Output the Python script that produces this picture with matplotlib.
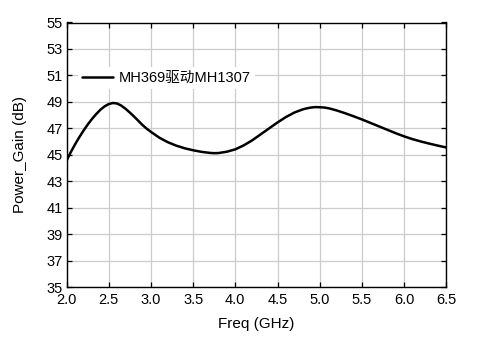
import numpy as np
import matplotlib
matplotlib.use('Agg')
import matplotlib.pyplot as plt

plt.rcParams['font.family'] = ['Liberation Sans', 'Noto Sans CJK SC', 'DejaVu Sans']

# values
freq = [2.0, 2.05, 2.1, 2.15, 2.2, 2.25, 2.3, 2.35, 2.4, 2.45,
        2.5, 2.55, 2.6, 2.65, 2.7, 2.75, 2.8, 2.85, 2.9, 2.95,
        3.0, 3.1, 3.2, 3.3, 3.4, 3.5, 3.6, 3.7, 3.75, 3.8, 3.9,
        4.0, 4.1, 4.2, 4.3, 4.4, 4.5, 4.6, 4.7, 4.8, 4.85, 4.9, 4.95,
        5.0, 5.05, 5.1, 5.15, 5.2, 5.3, 5.4, 5.5, 5.6, 5.7, 5.8, 5.9,
        6.0, 6.1, 6.2, 6.3, 6.4, 6.5]
gain = [44.55, 45.2, 45.78, 46.32, 46.82, 47.28, 47.7, 48.07, 48.4, 48.66,
        48.84, 48.92, 48.88, 48.72, 48.48, 48.2, 47.9, 47.58, 47.26, 46.98,
        46.74, 46.3, 45.96, 45.7, 45.5, 45.35, 45.23, 45.15, 45.13, 45.14, 45.24,
        45.42, 45.72, 46.1, 46.55, 47.0, 47.45, 47.86, 48.2, 48.44, 48.52, 48.58, 48.61,
        48.6, 48.58, 48.53, 48.45, 48.36, 48.15, 47.92, 47.68, 47.42, 47.16, 46.9, 46.64,
        46.4, 46.19, 46.01, 45.85, 45.7, 45.56]
series_name = 'MH369驱动MH1307'
xticks = [2.0, 2.5, 3.0, 3.5, 4.0, 4.5, 5.0, 5.5, 6.0, 6.5]
yticks = [35, 37, 39, 41, 43, 45, 47, 49, 51, 53, 55]

fig = plt.figure(figsize=(4.85, 3.45), dpi=100)
ax = fig.add_axes([66.5 / 485, 1 - 287.3 / 345, (446.3 - 66.5) / 485, (287.3 - 22.5) / 345])

ax.plot(freq, gain, color='black', linewidth=1.8, label=series_name,
        solid_joinstyle='round', solid_capstyle='round')

ax.set_xlim(2.0, 6.5)
ax.set_ylim(35, 55)
ax.set_xticks(xticks)
ax.set_xticklabels(['{:.1f}'.format(t) for t in xticks])
ax.set_yticks(yticks)

ax.grid(True, color='#cccccc', linewidth=0.9)
ax.set_axisbelow(True)
ax.tick_params(direction='in', length=3.8, width=0.9, top=True, right=True,
               labelsize=10.5, colors='black')
ax.tick_params(axis='x', pad=4.2)
ax.tick_params(axis='y', pad=2.5)
for sp in ax.spines.values():
    sp.set_linewidth(1.0)

ax.set_xlabel('Freq (GHz)', fontsize=11, labelpad=7)
ax.set_ylabel('Power_Gain (dB)', fontsize=11, labelpad=14)

leg = ax.legend(loc='center left', bbox_to_anchor=(0.029, 0.79), frameon=True,
                fontsize=10.5, handlelength=2.12, handletextpad=0.41,
                borderpad=0.3, borderaxespad=0.0)
leg.get_frame().set_edgecolor('none')
leg.get_frame().set_facecolor('white')
leg.get_frame().set_alpha(1.0)
leg.get_frame().set_boxstyle('square', pad=0)

fig.savefig('out.png', dpi=100)
